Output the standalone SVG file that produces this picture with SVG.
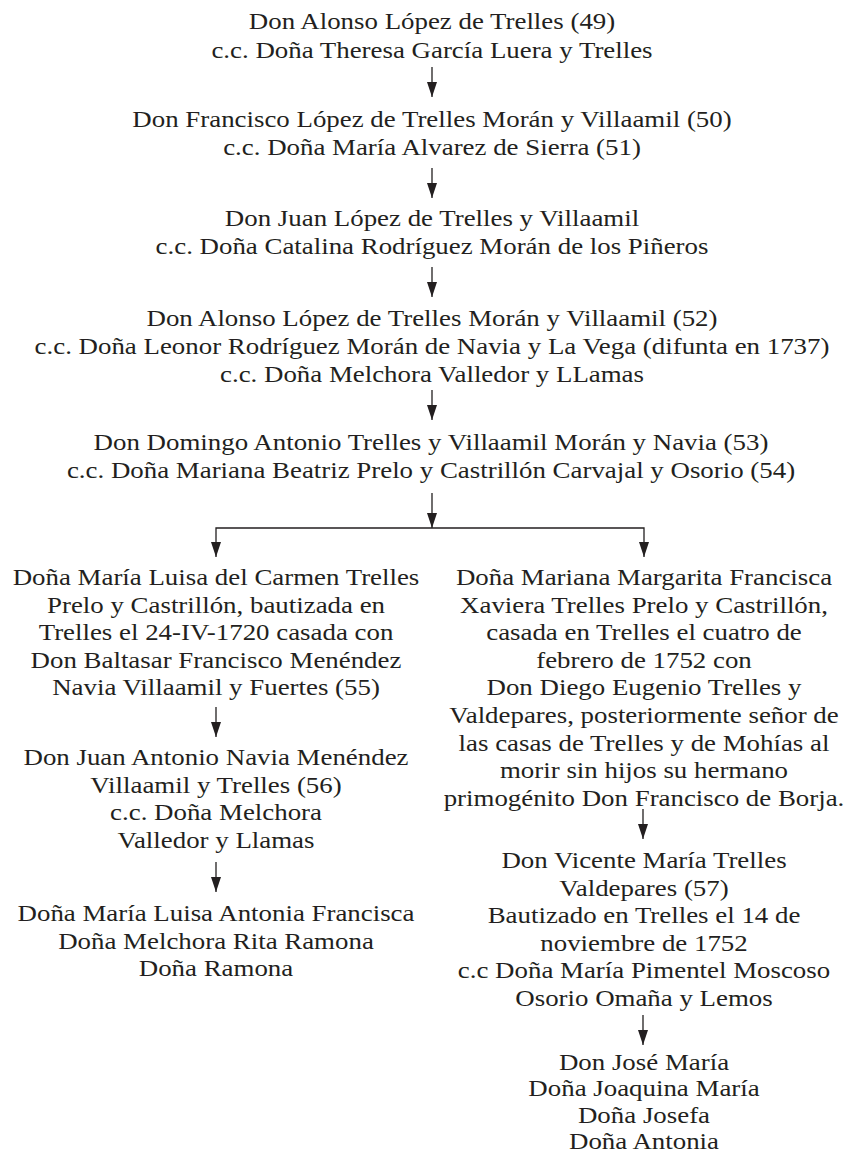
<svg xmlns="http://www.w3.org/2000/svg" width="855" height="1155" viewBox="0 0 855 1155">
<defs>
<style>
.t{font-family:"Liberation Serif","Times New Roman",serif;font-size:24px;fill:#231f20;text-anchor:middle}
.c{fill:none;stroke:#231f20;stroke-width:1.3}
</style>
<marker id="ah" markerUnits="userSpaceOnUse" viewBox="0 0 15 10" markerWidth="15" markerHeight="10" refX="15" refY="5" orient="auto">
<path d="M0,0 L15,5 L0,10 z" fill="#231f20"/>
</marker>
</defs>
<rect width="855" height="1155" fill="#ffffff"/>
<g id="connectors">
<path class="c" d="M432,67 V97" marker-end="url(#ah)"/>
<path class="c" d="M432,168 V198" marker-end="url(#ah)"/>
<path class="c" d="M432,267 V297" marker-end="url(#ah)"/>
<path class="c" d="M432,390 V420" marker-end="url(#ah)"/>
<path class="c" d="M432,493 V528" marker-end="url(#ah)"/>
<path class="c" d="M432,528 H216 V557" marker-end="url(#ah)"/>
<path class="c" d="M432,528 H644 V557" marker-end="url(#ah)"/>
<path class="c" d="M216,707 V737" marker-end="url(#ah)"/>
<path class="c" d="M216,862 V892" marker-end="url(#ah)"/>
<path class="c" d="M643,809 V839" marker-end="url(#ah)"/>
<path class="c" d="M643,1015 V1045" marker-end="url(#ah)"/>
</g>
<g id="n1"><text class="t" transform="translate(432,0) scale(1.12,1)"><tspan x="0" y="29.5">Don Alonso López de Trelles (49)</tspan><tspan x="0" y="57.7">c.c. Doña Theresa García Luera y Trelles</tspan></text></g>
<g id="n2"><text class="t" transform="translate(432,0) scale(1.12,1)"><tspan x="0" y="127">Don Francisco López de Trelles Morán y Villaamil (50)</tspan><tspan x="0" y="155">c.c. Doña María Alvarez de Sierra (51)</tspan></text></g>
<g id="n3"><text class="t" transform="translate(432,0) scale(1.12,1)"><tspan x="0" y="226">Don Juan López de Trelles y Villaamil</tspan><tspan x="0" y="254">c.c. Doña Catalina Rodríguez Morán de los Piñeros</tspan></text></g>
<g id="n4"><text class="t" transform="translate(432,0) scale(1.12,1)"><tspan x="0" y="326">Don Alonso López de Trelles Morán y Villaamil (52)</tspan><tspan x="0" y="354">c.c. Doña Leonor Rodríguez Morán de Navia y La Vega (difunta en 1737)</tspan><tspan x="0" y="382">c.c. Doña Melchora Valledor y LLamas</tspan></text></g>
<g id="n5"><text class="t" transform="translate(431,0) scale(1.12,1)"><tspan x="0" y="450">Don Domingo Antonio Trelles y Villaamil Morán y Navia (53)</tspan><tspan x="0" y="478">c.c. Doña Mariana Beatriz Prelo y Castrillón Carvajal y Osorio (54)</tspan></text></g>
<g id="n6"><text class="t" transform="translate(216,0) scale(1.12,1)"><tspan x="0" y="585">Doña María Luisa del Carmen Trelles</tspan><tspan x="0" y="612.6">Prelo y Castrillón, bautizada en</tspan><tspan x="0" y="640.2">Trelles el 24-IV-1720 casada con</tspan><tspan x="0" y="667.8">Don Baltasar Francisco Menéndez</tspan><tspan x="0" y="695.4">Navia Villaamil y Fuertes (55)</tspan></text></g>
<g id="n7"><text class="t" transform="translate(216,0) scale(1.12,1)"><tspan x="0" y="765">Don Juan Antonio Navia Menéndez</tspan><tspan x="0" y="792.6">Villaamil y Trelles (56)</tspan><tspan x="0" y="820.2">c.c. Doña Melchora</tspan><tspan x="0" y="847.8">Valledor y Llamas</tspan></text></g>
<g id="n8"><text class="t" transform="translate(216,0) scale(1.12,1)"><tspan x="0" y="921">Doña María Luisa Antonia Francisca</tspan><tspan x="0" y="948.6">Doña Melchora Rita Ramona</tspan><tspan x="0" y="976.2">Doña Ramona</tspan></text></g>
<g id="n9"><text class="t" transform="translate(644,0) scale(1.12,1)"><tspan x="0" y="585">Doña Mariana Margarita Francisca</tspan><tspan x="0" y="612.6">Xaviera Trelles Prelo y Castrillón,</tspan><tspan x="0" y="640.2">casada en Trelles el cuatro de</tspan><tspan x="0" y="667.8">febrero de 1752 con</tspan><tspan x="0" y="695.4">Don Diego Eugenio Trelles y</tspan><tspan x="0" y="723">Valdepares, posteriormente señor de</tspan><tspan x="0" y="750.6">las casas de Trelles y de Mohías al</tspan><tspan x="0" y="778.2">morir sin hijos su hermano</tspan><tspan x="0" y="805.8">primogénito Don Francisco de Borja.</tspan></text></g>
<g id="n10"><text class="t" transform="translate(644,0) scale(1.12,1)"><tspan x="0" y="868">Don Vicente María Trelles</tspan><tspan x="0" y="895.6">Valdepares (57)</tspan><tspan x="0" y="923.2">Bautizado en Trelles el 14 de</tspan><tspan x="0" y="950.8">noviembre de 1752</tspan><tspan x="0" y="978.4">c.c Doña María Pimentel Moscoso</tspan><tspan x="0" y="1006">Osorio Omaña y Lemos</tspan></text></g>
<g id="n11"><text class="t" transform="translate(644,0) scale(1.12,1)"><tspan x="0" y="1070">Don José María</tspan><tspan x="0" y="1096.5">Doña Joaquina María</tspan><tspan x="0" y="1123">Doña Josefa</tspan><tspan x="0" y="1149.5">Doña Antonia</tspan></text></g>
</svg>
